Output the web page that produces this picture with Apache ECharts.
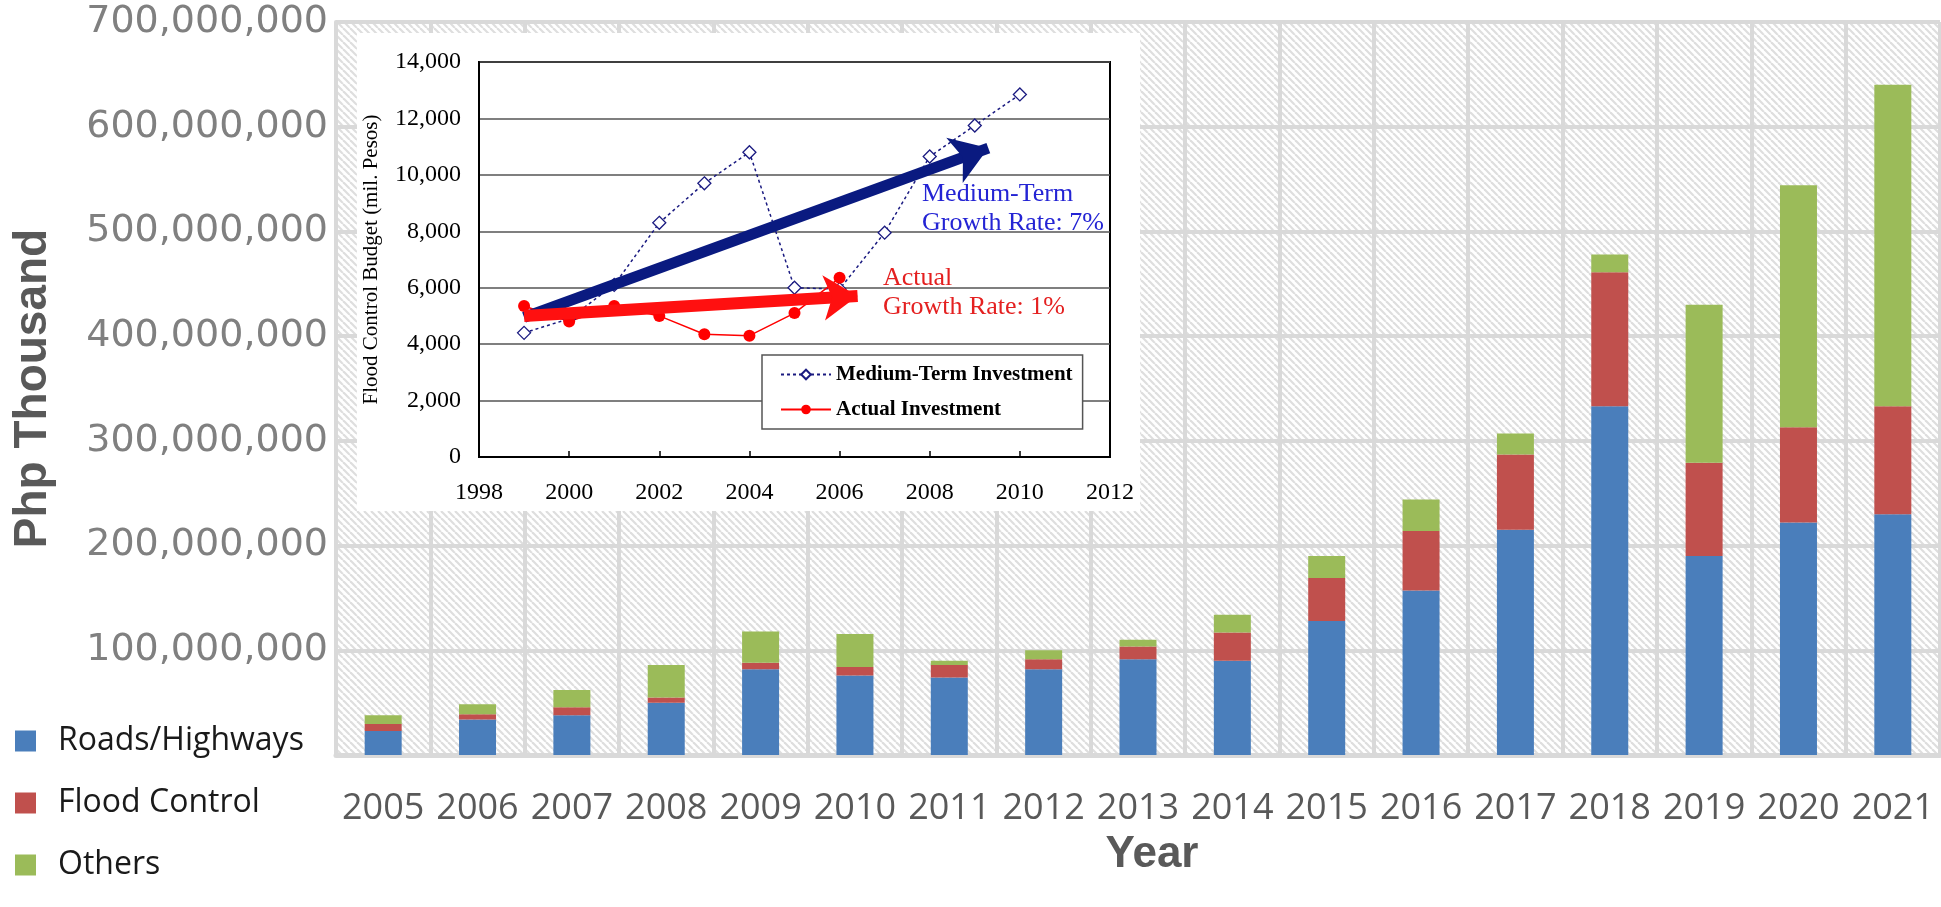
<!DOCTYPE html>
<html>
<head>
<meta charset="utf-8">
<title>DPWH budget by category</title>
<script src="https://cdn.jsdelivr.net/npm/echarts@6/dist/echarts.min.js"></script>
<style>
  html, body { margin: 0; padding: 0; background: #fff; }
  #main { width: 1941px; height: 907px; }
</style>
</head>
<body>
<div id="main"></div>
<script>
// main chart (Php thousand)
var years = ['2005', '2006', '2007', '2008', '2009', '2010', '2011', '2012', '2013',
  '2014', '2015', '2016', '2017', '2018', '2019', '2020', '2021'];
var roads = [23000000, 34000000, 38000000, 50000000, 82000000, 76000000, 74000000, 82000000, 91500000,
  90000000, 128000000, 157000000, 215000000, 333000000, 190000000, 222000000, 230000000];
var flood = [6500000, 5000000, 7500000, 5000000, 6000000, 8000000, 12000000, 9500000, 12000000,
  27000000, 41000000, 57000000, 72000000, 128000000, 89000000, 91000000, 103000000];
var others = [8500000, 9500000, 16500000, 31000000, 30000000, 31500000, 4000000, 8500000, 6500000,
  17000000, 21000000, 30000000, 20000000, 17000000, 151000000, 231000000, 307000000];

// inset chart (mil. Pesos)
var mtYears = [1999, 2000, 2001, 2002, 2003, 2004, 2005, 2006, 2007, 2008, 2009, 2010];
var mediumTerm = [4400, 4900, 6100, 8300, 9700, 10800, 6000, 5950, 7950, 10650, 11750, 12850];
var actYears = [1999, 2000, 2001, 2002, 2003, 2004, 2005, 2006];
var actual = [5350, 4800, 5350, 5000, 4350, 4300, 5100, 6350];
// trend arrows [start, end]
var mtArrow = [[1999, 4950], [2009.3, 10950]];
var actArrow = [[1999, 5000], [2006.4, 5710]];

function pairs(xs, ys) {
  return xs.map(function (x, i) { return [x, ys[i]]; });
}

// diagonal hatch for the plot background
function hatch() {
  var s = 7;
  var c = document.createElement('canvas');
  c.width = s; c.height = s;
  var g = c.getContext('2d');
  g.fillStyle = '#ffffff';
  g.fillRect(0, 0, s, s);
  g.strokeStyle = '#dedede';
  g.lineWidth = 2.2;
  for (var k = -1; k <= 1; k++) {
    g.beginPath();
    g.moveTo(k * s, 0);
    g.lineTo(k * s + s, s);
    g.stroke();
  }
  return c;
}

var chart = echarts.init(document.getElementById('main'));
var grey = '#d9d9d9';
var serif = 'Liberation Serif';

var option = {
  animation: false,
  backgroundColor: '#ffffff',
  grid: [{
    left: 336, right: 1, top: 22, bottom: 152,
    show: true, borderWidth: 0,
    backgroundColor: { image: hatch(), repeat: 'repeat' }
  }, {
    left: 479, top: 62, width: 631, height: 395,
    show: true, z: 3, backgroundColor: '#ffffff', borderColor: '#000', borderWidth: 2
  }],
  legend: [{
    data: ['Roads/Highways', 'Flood Control', 'Others'],
    orient: 'vertical', left: 10, top: 720,
    icon: 'rect', itemWidth: 21, itemHeight: 21, itemGap: 30,
    selectedMode: false,
    textStyle: { fontFamily: 'Open Sans', fontSize: 32, color: '#1a1a1a', lineHeight: 30, padding: [0, 0, 0, 17] }
  }, {
    data: ['Medium-Term Investment', 'Actual Investment'],
    orient: 'vertical', left: 762, top: 355, z: 9,
    backgroundColor: '#ffffff', borderColor: '#555', borderWidth: 1.5,
    padding: [9, 10, 9, 18],
    itemWidth: 50, itemHeight: 12, itemGap: 14,
    selectedMode: false,
    textStyle: { fontFamily: serif, fontWeight: 'bold', fontSize: 21, color: '#000' }
  }],
  xAxis: [{
    type: 'category', gridIndex: 0, data: years,
    axisLine: { lineStyle: { color: grey, width: 5 } },
    axisTick: { show: false },
    splitLine: { show: true, lineStyle: { color: grey, width: 4 } },
    axisLabel: { fontFamily: 'Open Sans', fontSize: 36, color: '#595959', margin: 36, interval: 0 },
    name: 'Year', nameLocation: 'middle', nameGap: 78,
    nameTextStyle: { fontFamily: 'Liberation Sans', fontWeight: 'bold', fontSize: 44, color: '#595959', padding: [0, 0, 0, 28] }
  }, {
    type: 'value', gridIndex: 1, min: 1998, max: 2012, interval: 2, z: 4,
    axisLine: { lineStyle: { color: '#000', width: 2 } },
    axisTick: { inside: true, length: 6, lineStyle: { color: '#000', width: 1.5 } },
    splitLine: { show: false },
    axisLabel: { fontFamily: serif, fontSize: 24, color: '#000', margin: 24, formatter: function (v) { return String(v); } }
  }],
  yAxis: [{
    type: 'value', gridIndex: 0, min: 0, max: 700000000, interval: 100000000,
    axisLine: { show: true, lineStyle: { color: grey, width: 4 } },
    axisTick: { show: false },
    splitLine: { lineStyle: { color: grey, width: 4 } },
    axisLabel: {
      fontFamily: 'DejaVu Sans', fontSize: 38, color: '#808080', margin: 8,
      formatter: function (v) { return v === 0 ? '' : v.toLocaleString('en-US'); }
    },
    name: 'Php Thousand', nameLocation: 'middle', nameGap: 280,
    nameTextStyle: { fontFamily: 'Liberation Sans', fontWeight: 'bold', fontSize: 46, color: '#595959' }
  }, {
    type: 'value', gridIndex: 1, min: 0, max: 14000, interval: 2000, z: 4,
    axisLine: { show: true, lineStyle: { color: '#000', width: 2 } },
    axisTick: { show: false },
    splitLine: { lineStyle: { color: '#555', width: 1.5 } },
    axisLabel: { fontFamily: serif, fontSize: 24, color: '#000', margin: 18 },
    name: 'Flood Control Budget (mil. Pesos)', nameLocation: 'middle', nameGap: 97,
    nameTextStyle: { fontFamily: serif, fontSize: 21, color: '#000' }
  }],
  graphic: {
    elements: [{
      type: 'rect', z: 1, silent: true,
      shape: { x: 357, y: 33, width: 783, height: 478 },
      style: { fill: '#ffffff' }
    }, {
      type: 'text', z: 8, left: 922, top: 180,
      style: { text: 'Medium-Term\nGrowth Rate: 7%', font: '26px "Liberation Serif"', fill: '#2424d4', lineHeight: 29 }
    }, {
      type: 'text', z: 8, left: 883, top: 264,
      style: { text: 'Actual\nGrowth Rate: 1%', font: '26px "Liberation Serif"', fill: '#e42020', lineHeight: 29 }
    }]
  },
  series: [{
    name: 'Roads/Highways', type: 'bar', stack: 'total', barWidth: 37,
    itemStyle: { color: '#4a7ebb' }, data: roads
  }, {
    name: 'Flood Control', type: 'bar', stack: 'total', barWidth: 37,
    itemStyle: { color: '#c0504d' }, data: flood
  }, {
    name: 'Others', type: 'bar', stack: 'total', barWidth: 37,
    itemStyle: { color: '#9bbb59' }, data: others
  }, {
    name: 'Medium-Term Investment', type: 'line', xAxisIndex: 1, yAxisIndex: 1, z: 6,
    data: pairs(mtYears, mediumTerm),
    symbol: 'diamond', symbolSize: 13,
    lineStyle: { color: '#1a1a80', width: 1.5, type: [3, 3] },
    itemStyle: { color: '#ffffff', borderColor: '#1a1a80', borderWidth: 1.3 }
  }, {
    name: 'Actual Investment', type: 'line', xAxisIndex: 1, yAxisIndex: 1, z: 6,
    data: pairs(actYears, actual),
    symbol: 'circle', symbolSize: 12,
    lineStyle: { color: '#ff0000', width: 1.5 },
    itemStyle: { color: '#ff0000' }
  }, {
    name: 'Medium-Term trend', type: 'lines', coordinateSystem: 'cartesian2d',
    xAxisIndex: 1, yAxisIndex: 1, z: 7, silent: true,
    symbol: ['none', 'arrow'], symbolSize: 36,
    lineStyle: { color: '#0a1a80', width: 11, opacity: 1 },
    data: [{ coords: mtArrow }]
  }, {
    name: 'Actual trend', type: 'lines', coordinateSystem: 'cartesian2d',
    xAxisIndex: 1, yAxisIndex: 1, z: 8, silent: true,
    symbol: ['none', 'arrow'], symbolSize: 34,
    lineStyle: { color: '#ff1010', width: 12, opacity: 1 },
    data: [{ coords: actArrow }]
  }]
};

chart.setOption(option);
</script>
</body>
</html>
